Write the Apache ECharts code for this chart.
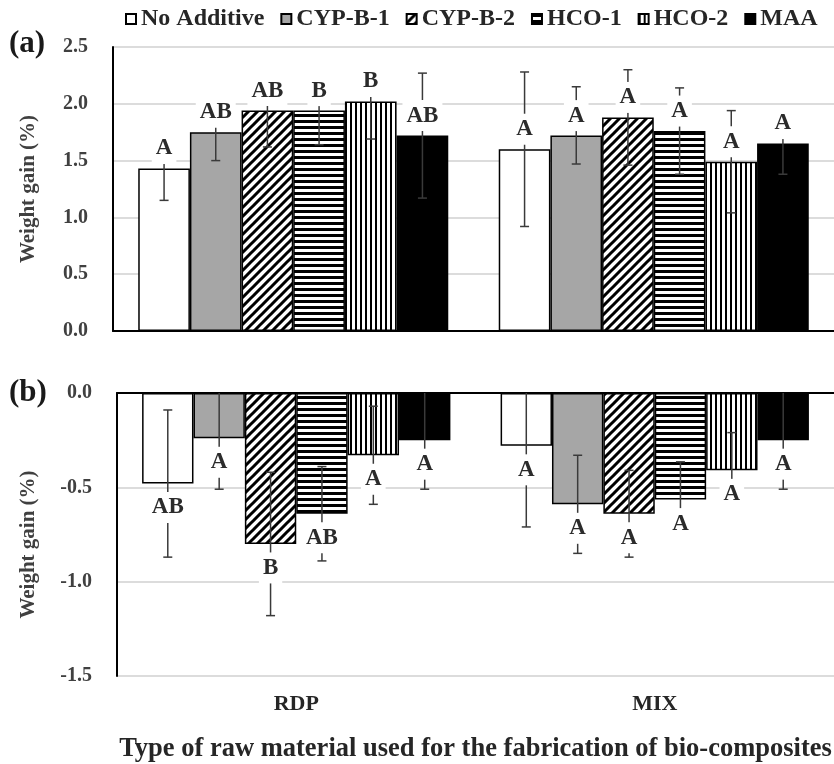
<!DOCTYPE html>
<html>
<head>
<meta charset="utf-8">
<script src="https://cdn.jsdelivr.net/npm/echarts@6/dist/echarts.min.js"></script>
<style>
  html, body { margin: 0; padding: 0; background: #fff; }
  #chart { width: 834px; height: 764px; }
</style>
</head>
<body>
<div id="chart"></div>
<script>
// data
const categories = ['RDP', 'MIX'];
const additives = ['No Additive', 'CYP-B-1', 'CYP-B-2', 'HCO-1', 'HCO-2', 'MAA'];

// (a) weight gain
const gainRDP = [1.43, 1.75, 1.94, 1.94, 2.02, 1.72];
const gainMIX = [1.60, 1.72, 1.88, 1.76, 1.49, 1.65];
const gainRDPErrUp = [0.28, 0.25, 0.25, 0.25, 0.20, 0.55];
const gainRDPErrDown = [0.28, 0.25, 0.32, 0.30, 0.33, 0.55];
const gainMIXErrUp = [0.68, 0.43, 0.42, 0.38, 0.45, 0.27];
const gainMIXErrDown = [0.68, 0.25, 0.42, 0.38, 0.45, 0.27];
const lettersRDPa = ['A', 'AB', 'AB', 'B', 'B', 'AB'];
const lettersMIXa = ['A', 'A', 'A', 'A', 'A', 'A'];

// (b) weight gain (negative)
const lossRDP = [-0.48, -0.24, -0.80, -0.64, -0.33, -0.25];
const lossMIX = [-0.28, -0.59, -0.64, -0.565, -0.41, -0.25];
const lossRDPErr = [0.39, 0.27, 0.38, 0.25, 0.26, 0.26];
const lossMIXErr = [0.43, 0.26, 0.23, 0.20, 0.20, 0.26];
const lettersRDPb = ['AB', 'A', 'B', 'AB', 'A', 'A'];
const lettersMIXb = ['A', 'A', 'A', 'A', 'A', 'A'];

const FONT = '"Liberation Serif", "Times New Roman", serif';
const GAP = 0.14;

function makePattern(w, h, draw) {
  const c = document.createElement('canvas');
  c.width = w; c.height = h;
  const ctx = c.getContext('2d');
  ctx.fillStyle = '#fff';
  ctx.fillRect(0, 0, w, h);
  ctx.fillStyle = '#000';
  ctx.strokeStyle = '#000';
  draw(ctx);
  return { image: c, repeat: 'repeat' };
}

const diag = makePattern(9, 9, ctx => {
  ctx.lineWidth = 3;
  ctx.beginPath();
  ctx.moveTo(-1, 10); ctx.lineTo(10, -1);
  ctx.moveTo(-2, 2); ctx.lineTo(2, -2);
  ctx.moveTo(7, 11); ctx.lineTo(11, 7);
  ctx.stroke();
});
const horiz = makePattern(6, 6, ctx => ctx.fillRect(0, 0, 6, 3));
const vert = makePattern(5, 5, ctx => ctx.fillRect(0, 0, 2, 5));
const fills = ['#ffffff', '#a6a6a6', diag, horiz, vert, '#000000'];

function errData(rdp, mix, upR, dnR, upM, dnM) {
  const out = [];
  [rdp, mix].forEach((vals, c) => {
    const up = c === 0 ? upR : upM;
    const dn = c === 0 ? dnR : dnM;
    vals.forEach((v, k) => out.push([c, v, up[k], dn[k], k]));
  });
  return out;
}

function renderErr(letters, above) {
  return function (params, api) {
    const cat = api.value(0), v = api.value(1);
    const up = api.value(2), dn = api.value(3), k = api.value(4);
    const barW = api.size([1, 0])[0] * (1 - GAP) / 6;
    const p = api.coord([cat, v]);
    const x = p[0] + (k - 2.5) * barW;
    const yHi = api.coord([cat, v + up])[1];
    const yLo = api.coord([cat, v - dn])[1];
    const cap = 4.5;
    const ls = { stroke: '#3a3a3a', lineWidth: 1.5 };
    return {
      type: 'group',
      children: [
        { type: 'line', shape: { x1: x, y1: yHi, x2: x, y2: yLo }, style: ls },
        { type: 'line', shape: { x1: x - cap, y1: yHi, x2: x + cap, y2: yHi }, style: ls },
        { type: 'line', shape: { x1: x - cap, y1: yLo, x2: x + cap, y2: yLo }, style: ls },
        {
          type: 'text', x: x, y: above ? p[1] - 20 : p[1] + 24, z2: 10,
          style: {
            text: letters[params.dataIndex],
            fontFamily: FONT, fontWeight: 'bold', fontSize: 23,
            fill: '#2b2b2b', align: 'center', verticalAlign: 'middle',
            backgroundColor: '#fff', padding: [4, 4]
          }
        }
      ]
    };
  };
}

const series = [];
additives.forEach((name, i) => {
  series.push({
    type: 'bar', name: name, xAxisIndex: 0, yAxisIndex: 0,
    data: [gainRDP[i], gainMIX[i]],
    barGap: '0%', barCategoryGap: (GAP * 100) + '%',
    itemStyle: { color: fills[i], borderColor: '#000', borderWidth: 1.5 },
    z: 2
  });
});
additives.forEach((name, i) => {
  series.push({
    type: 'bar', name: name, xAxisIndex: 1, yAxisIndex: 1,
    data: [lossRDP[i], lossMIX[i]],
    barGap: '0%', barCategoryGap: (GAP * 100) + '%',
    itemStyle: { color: fills[i], borderColor: '#000', borderWidth: 1.5 },
    z: 2
  });
});
series.push({
  type: 'custom', xAxisIndex: 0, yAxisIndex: 0, z: 3, clip: true,
  encode: { x: 0, y: 1 },
  data: errData(gainRDP, gainMIX, gainRDPErrUp, gainRDPErrDown, gainMIXErrUp, gainMIXErrDown),
  renderItem: renderErr(lettersRDPa.concat(lettersMIXa), true)
});
series.push({
  type: 'custom', xAxisIndex: 1, yAxisIndex: 1, z: 3, clip: true,
  encode: { x: 0, y: 1 },
  data: errData(lossRDP, lossMIX, lossRDPErr, lossRDPErr, lossMIXErr, lossMIXErr),
  renderItem: renderErr(lettersRDPb.concat(lettersMIXb), false)
});

const tickLabel = {
  fontFamily: FONT, fontWeight: 'bold', fontSize: 20, color: '#404040', margin: 25,
  formatter: v => v.toFixed(1)
};
const nameStyle = { fontFamily: FONT, fontWeight: 'bold', fontSize: 21, color: '#404040' };
const split = { lineStyle: { color: '#dcdcdc', width: 2 } };
const blackLine = { lineStyle: { color: '#000', width: 2 } };

const chart = echarts.init(document.getElementById('chart'));
chart.setOption({
  animation: false,
  backgroundColor: '#fff',
  legend: {
    data: additives,
    left: 120, top: 2,
    icon: 'rect',
    itemWidth: 10, itemHeight: 10, itemGap: 16,
    textStyle: { fontFamily: FONT, fontWeight: 'bold', fontSize: 24, color: '#262626' }
  },
  grid: [
    { left: 113, top: 47, width: 721, height: 284 },
    { left: 117, top: 393, width: 717, height: 284 }
  ],
  xAxis: [
    {
      gridIndex: 0, type: 'category', data: categories,
      axisLine: blackLine,
      axisTick: { inside: true, length: 6, lineStyle: { color: '#000', width: 1.5 } },
      axisLabel: { show: false }
    },
    {
      gridIndex: 1, type: 'category', data: categories, position: 'top',
      axisLine: { onZero: false, lineStyle: { color: '#000', width: 2 } },
      axisTick: { length: 6, lineStyle: { color: '#000', width: 1.5 } },
      axisLabel: { show: false }
    },
    {
      gridIndex: 1, type: 'category', data: categories, position: 'bottom',
      axisLine: { show: false }, axisTick: { show: false },
      axisLabel: { fontFamily: FONT, fontWeight: 'bold', fontSize: 22, color: '#262626', margin: 17 },
      name: 'Type of raw material used for the fabrication of bio-composites',
      nameLocation: 'middle', nameGap: 60,
      nameTextStyle: { fontFamily: FONT, fontWeight: 'bold', fontSize: 26.5, color: '#262626' }
    }
  ],
  yAxis: [
    {
      gridIndex: 0, type: 'value', min: 0, max: 2.5, interval: 0.5,
      axisLine: { show: true, lineStyle: { color: '#000', width: 2 } },
      axisTick: { show: false },
      axisLabel: tickLabel, splitLine: split,
      name: 'Weight gain (%)', nameLocation: 'middle', nameGap: 74, nameTextStyle: nameStyle
    },
    {
      gridIndex: 1, type: 'value', min: -1.5, max: 0, interval: 0.5,
      axisLine: { show: true, onZero: false, lineStyle: { color: '#000', width: 2 } },
      axisTick: { show: false },
      axisLabel: tickLabel, splitLine: split,
      name: 'Weight gain (%)', nameLocation: 'middle', nameGap: 78,
      nameTextStyle: Object.assign({ padding: [0, 20, 0, 0] }, nameStyle)
    }
  ],
  graphic: [
    { type: 'text', left: 9, top: 28, style: { text: '(a)', fontFamily: FONT, fontWeight: 'bold', fontSize: 31, fill: '#1a1a1a' } },
    { type: 'text', left: 9, top: 377, style: { text: '(b)', fontFamily: FONT, fontWeight: 'bold', fontSize: 31, fill: '#1a1a1a' } }
  ],
  series: series
});
window.addEventListener('resize', () => chart.resize());
</script>
</body>
</html>
